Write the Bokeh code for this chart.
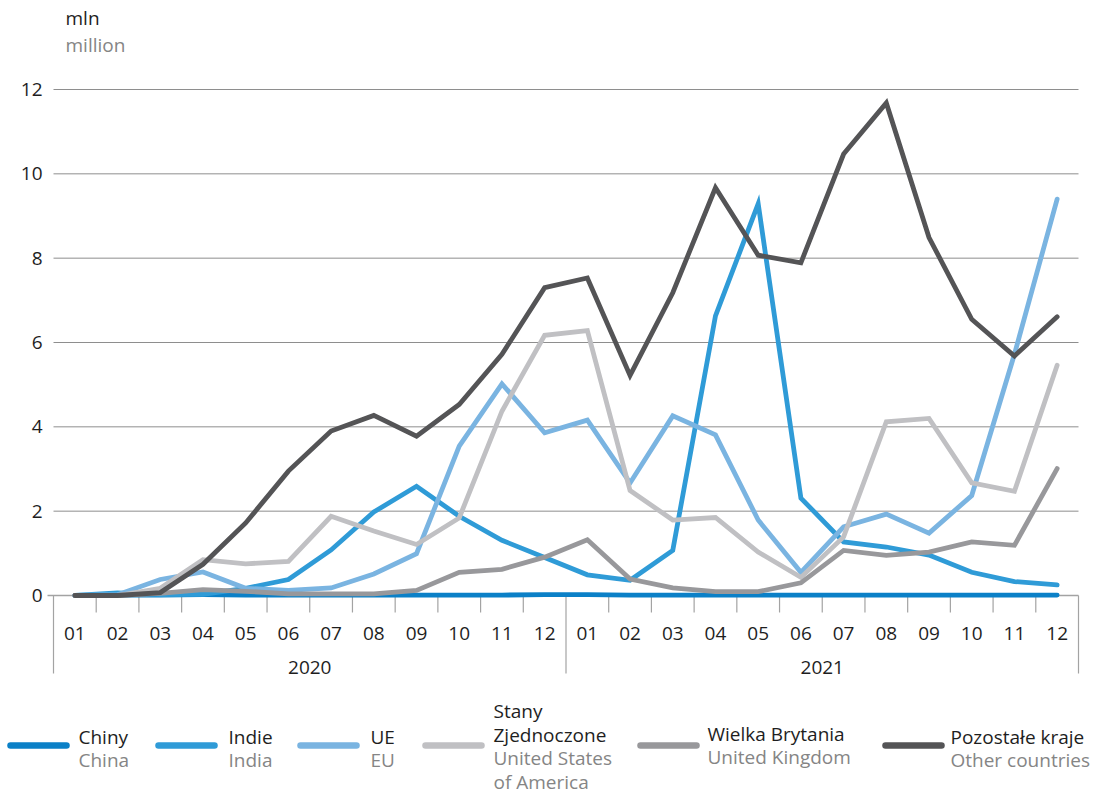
from bokeh.plotting import figure
from bokeh.models import Range1d, ColumnDataSource
from bokeh.core.properties import value
from bokeh.embed import file_html
from bokeh.resources import INLINE

# ---- data: monthly values, million ----
months = ["01", "02", "03", "04", "05", "06", "07", "08", "09", "10", "11", "12"]
years = ["2020", "2021"]
y_ticks = [0, 2, 4, 6, 8, 10, 12]

china = [0.0, 0.01, 0.01, 0.02, 0.01, 0.01, 0.01, 0.01, 0.01, 0.01, 0.01, 0.02,
         0.02, 0.01, 0.01, 0.01, 0.01, 0.01, 0.01, 0.01, 0.01, 0.01, 0.01, 0.01]
india = [0.0, 0.06, 0.02, 0.03, 0.17, 0.38, 1.08, 1.98, 2.59, 1.88, 1.31, 0.90,
         0.49, 0.36, 1.07, 6.63, 9.29, 2.31, 1.27, 1.15, 0.96, 0.55, 0.33, 0.25]
eu = [0.0, 0.02, 0.38, 0.56, 0.17, 0.12, 0.18, 0.51, 0.99, 3.54, 5.02, 3.86,
      4.16, 2.67, 4.26, 3.81, 1.79, 0.55, 1.63, 1.93, 1.48, 2.37, 5.72, 9.40]
usa = [0.0, 0.0, 0.17, 0.85, 0.75, 0.81, 1.88, 1.53, 1.21, 1.84, 4.37, 6.17,
       6.28, 2.49, 1.79, 1.85, 1.03, 0.43, 1.39, 4.12, 4.20, 2.67, 2.47, 5.46]
uk = [0.0, 0.0, 0.05, 0.14, 0.10, 0.04, 0.04, 0.04, 0.12, 0.55, 0.62, 0.91,
      1.32, 0.39, 0.18, 0.09, 0.09, 0.30, 1.07, 0.95, 1.03, 1.27, 1.19, 3.01]
others = [0.0, 0.0, 0.07, 0.74, 1.72, 2.95, 3.90, 4.27, 3.78, 4.53, 5.72, 7.30,
          7.53, 5.22, 7.18, 9.67, 8.07, 7.89, 10.47, 11.68, 8.49, 6.55, 5.68, 6.61]

series_pl = ["Chiny", "Indie", "UE", "Stany\nZjednoczone", "Wielka Brytania", "Pozostałe kraje"]
series_en = ["China", "India", "EU", "United States\nof America", "United Kingdom", "Other countries"]
series_vals = [china, india, eu, usa, uk, others]
colors = ["#0b80c7", "#2f9bd7", "#7ab4e1", "#c0c0c3", "#98989b", "#545456"]

# ---- page geometry (pixels) ----
W, H = 1093, 793
FX0, FX1 = 53, 1078          # plot area left/right
FY_TOP, FY_ZERO = 89, 595    # y of 12 and of 0
n = len(months) * len(years)
cat_px = (FX1 - FX0) / n
val_px = (FY_ZERO - FY_TOP) / 12.0

FONT = value("Open Sans")
FS = value("19px")
DARK = "#1e1e1e"
GREY_TXT = "#858585"
AXIS_GREY = "#a3a3a3"

p = figure(width=W, height=H, output_backend="svg", toolbar_location=None,
           x_range=Range1d(0, W), y_range=Range1d(H, 0),
           x_axis_location=None, y_axis_location=None, min_border=0)
p.grid.visible = False
p.xgrid.grid_line_color = None
p.ygrid.grid_line_color = None
p.outline_line_color = None
p.background_fill_color = "white"
p.border_fill_color = "white"

# month index axis and value axis
p.extra_x_ranges = {"m": Range1d(-FX0 / cat_px, (W - FX0) / cat_px)}
p.extra_y_ranges = {"v": Range1d(-(H - FY_ZERO) / val_px, FY_ZERO / val_px)}
MV = dict(x_range_name="m", y_range_name="v")

# horizontal gridlines
grid_v = [t for t in y_ticks if t > 0]
p.segment(x0=[0] * len(grid_v), x1=[n] * len(grid_v), y0=grid_v, y1=grid_v,
          line_color="#8e8e8e", line_width=1, **MV)
# zero line, slightly longer on the left
p.segment(x0=[-6 / cat_px], x1=[n], y0=[0], y1=[0], line_color=AXIS_GREY, line_width=1.5, **MV)

# y tick labels
p.text(x=[42] * len(y_ticks), y=y_ticks, text=[str(t) for t in y_ticks],
       text_align="right", text_baseline="middle", text_font=FONT, text_font_size=FS,
       text_color=DARK, y_range_name="v")

# month tick marks between categories, and long year dividers
tick_len = 17 / val_px
bounds = [b for b in range(1, n) if b % len(months) != 0]
p.segment(x0=bounds, x1=bounds, y0=[0] * len(bounds), y1=[-tick_len] * len(bounds),
          line_color=AXIS_GREY, line_width=1.2, **MV)
div = [0, len(months), n]
div_len = 78 / val_px
p.segment(x0=div, x1=div, y0=[0] * 3, y1=[-div_len] * 3,
          line_color=AXIS_GREY, line_width=1.2, **MV)

# month and year labels
xc = [i + 0.5 for i in range(n)]
p.text(x=xc, y=[-(633 - FY_ZERO) / val_px] * n, text=months * len(years),
       text_align="center", text_baseline="middle", text_font=FONT, text_font_size=FS,
       text_color=DARK, **MV)
p.text(x=[len(months) * (k + 0.5) for k in range(len(years))],
       y=[-(667 - FY_ZERO) / val_px] * len(years), text=years,
       text_align="center", text_baseline="middle", text_font=FONT, text_font_size=FS,
       text_color=DARK, **MV)

# data lines
for vals, col in zip(series_vals, colors):
    src = ColumnDataSource(dict(x=xc, y=vals))
    p.line("x", "y", source=src, line_color=col, line_width=4.8,
           line_join="miter", line_cap="round", **MV)

# "mln / million" unit caption
p.text(x=[65, 65], y=[17, 44], text=["mln", "million"], text_align="left",
       text_baseline="middle", text_font=FONT, text_font_size=FS,
       text_color=[DARK, GREY_TXT])

# legend
sw_x0 = [10, 158, 300, 425, 640, 885]
sw_len = 56
txt_x = [78, 228, 370, 493, 707, 950]
LINE_H = 23.5
leg_y = 745
text_mid = [748, 748, 748, 746, 745, 748]
for i in range(len(series_pl)):
    p.segment(x0=[sw_x0[i]], x1=[sw_x0[i] + sw_len], y0=[leg_y], y1=[leg_y],
              line_color=colors[i], line_width=6.5, line_cap="round")
    pl = series_pl[i].split("\n")
    en = series_en[i].split("\n")
    lines = pl + en
    cols = [DARK] * len(pl) + [GREY_TXT] * len(en)
    total = len(lines)
    y_first = min(text_mid[i] - (total - 1) * LINE_H / 2, 781 - (total - 1) * LINE_H)
    ys = [y_first + k * LINE_H for k in range(total)]
    p.text(x=[txt_x[i]] * total, y=ys, text=lines, text_align="left",
           text_baseline="middle", text_font=FONT, text_font_size=FS, text_color=cols)

open("out.html", "w").write(file_html(p, INLINE))
